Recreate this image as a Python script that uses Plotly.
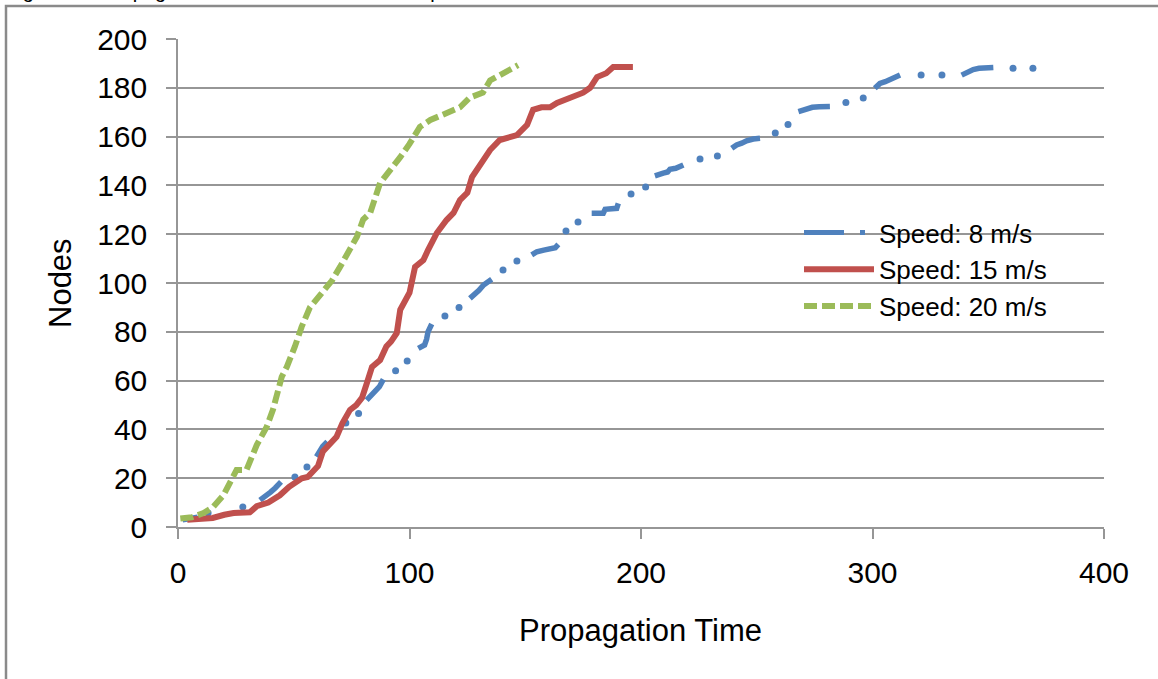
import math
import plotly.graph_objects as go

# Propagation time (x) vs. number of reached nodes (y) for each node speed
t_8 = [2, 4, 6, 8.5, 13, 28,
       35.4, 37, 38.4, 40, 42, 43.2, 44.5, 50.5, 55.7,
       59.8, 61, 62.5, 64.5, 72.5, 78,
       81.5, 83, 85, 87, 88.7, 94, 99,
       103.8, 106.5, 107.4, 108, 109.6, 115.3, 121.4,
       126.1, 128, 130, 132, 133.8, 135.5, 140.4, 146.4,
       152.8, 155, 158, 161.4, 163, 164.3, 167.6, 172.8,
       178.7, 181, 183.7, 184.5, 187, 189.5, 190.2, 195.7, 202,
       206, 208, 209.6, 211.5, 212.5, 215, 218.3, 225.5, 233,
       239.2, 241.3, 243.5, 245.6, 248.5, 251.4, 258, 263.5,
       268, 270, 271.6, 274, 277, 279.5, 281.6, 288.5, 296,
       301, 302, 303.2, 305.5, 307.6, 310, 311.9, 321, 330,
       338.5, 340, 341.5, 343.5, 346, 349, 352.2, 360.7, 369.3]
n_8 = [3, 3.2, 3.5, 4, 5.7, 8.2,
       11, 12, 13, 14.3, 16, 17.2, 18.5, 20.5, 24.6,
       28.8, 31, 33, 35, 42.6, 46.5,
       52, 53.5, 55, 57.5, 60.5, 64, 68,
       73.2, 74.6, 77, 80, 83.2, 86.5, 90,
       93.7, 95, 97, 99.2, 100.2, 101.5, 105.3, 109,
       111.5, 112.8, 113.5, 113.8, 114.5, 115.8, 121.3, 125,
       128.6, 128.6, 128.6, 130.2, 130.4, 130.6, 132.6, 136.5, 139.3,
       143.9, 144.2, 145, 145.5, 146.6, 147, 148.4, 150.8, 152,
       155.2, 156.6, 157.3, 158.3, 159, 159.3, 161.5, 165,
       170.2, 171, 171.6, 172, 172.2, 172.2, 172.3, 174, 175.8,
       179.8, 181, 181.8, 182.5, 183.2, 184, 185.2, 185.2, 185.2,
       185.2, 186, 186.8, 187.5, 188, 188.2, 188.3, 188, 188]

t_15 = [4, 10, 15, 20, 24, 31, 34, 39, 44, 48, 53.5, 56, 60.5, 62.6, 66,
        68.5, 71, 74.3, 77, 79.5, 81.6, 83.8, 87.3, 90, 92, 94.5, 96, 98,
        100, 102.4, 106, 108, 111.8, 116, 119, 121.8, 125, 127, 131.3,
        134.8, 139, 143, 146.4, 150.8, 153.4, 157, 160.7, 163.7, 169, 175,
        178, 181, 185, 188, 196.5]
n_15 = [3, 3.2, 3.7, 5, 5.7, 6, 8.5, 10, 13, 16.5, 20, 20.5, 25, 31, 34,
        37, 42.5, 48, 50, 53, 59, 65.6, 68.4, 74, 76, 79.5, 89, 92,
        96, 106.6, 109.4, 113.5, 120.5, 125.8, 128.7, 134, 137, 143.4, 149,
        154.5, 158.6, 159.5, 160.6, 164.8, 171, 172, 172, 173.8, 176, 178,
        180, 184.4, 186, 188.5, 188.5]

t_20 = [1, 6, 11, 15, 19.6, 23, 25.3, 29.6, 34, 38.3, 41, 44.8, 47, 50.5,
        53.4, 57, 62.6, 66.5, 70, 73, 77.3, 80, 83, 87.3, 92.4, 96, 100,
        104.5, 109, 116, 121.8, 126, 131.7, 134.8, 140.4, 146.9]
n_20 = [3.5, 4, 5.7, 8, 13, 19, 23.4, 23.4, 33.6, 41, 48, 61.5, 65.6, 74,
        82, 90, 96, 101, 106.6, 112, 119, 126, 128.7, 141, 147, 151.6, 157,
        164, 166.8, 170, 172, 176, 178, 183, 186, 189.3]

series_names = ["Speed: 8 m/s", "Speed: 15 m/s", "Speed: 20 m/s"]
x_ticks = [0, 100, 200, 300, 400]
y_ticks = list(range(0, 201, 20))

BLUE, RED, GREEN = "#4F81BD", "#C0504D", "#9BBB59"
FONT = "Liberation Sans, Arial, sans-serif"
GRID = "#969696"


def split_runs(xs, ys, max_step=4.0):
    """Group consecutive samples into runs; a long jump starts a new run."""
    runs = [[(xs[0], ys[0])]]
    for x0, y0, x1, y1 in zip(xs, ys, xs[1:], ys[1:]):
        if math.hypot(x1 - x0, y1 - y0) > max_step:
            runs.append([])
        runs[-1].append((x1, y1))
    return runs


runs_8 = split_runs(t_8, n_8)
seg_x, seg_y, dot_x, dot_y = [], [], [], []
for run in runs_8:
    if len(run) > 1:
        seg_x += [p[0] for p in run] + [None]
        seg_y += [p[1] for p in run] + [None]
    else:
        dot_x.append(run[0][0])
        dot_y.append(run[0][1])

fig = go.Figure()

# 8 m/s: dense stretches as dashes, sparse samples as dots
fig.add_trace(go.Scatter(x=seg_x, y=seg_y, mode="lines", connectgaps=False,
                         line=dict(color=BLUE, width=5.5), showlegend=False,
                         hoverinfo="skip"))
fig.add_trace(go.Scatter(x=dot_x, y=dot_y, mode="markers",
                         marker=dict(color=BLUE, size=7), showlegend=False,
                         hoverinfo="skip"))
# legend key for the 8 m/s series
fig.add_trace(go.Scatter(x=[None], y=[None], mode="lines", name=series_names[0],
                         line=dict(color=BLUE, width=5, dash="40px,16px,5px,16px"),
                         legendrank=1))

fig.add_trace(go.Scatter(x=t_15, y=n_15, mode="lines", name=series_names[1],
                         line=dict(color=RED, width=6), legendrank=2))
fig.add_trace(go.Scatter(x=t_20, y=n_20, mode="lines", name=series_names[2],
                         line=dict(color=GREEN, width=6, dash="13px,5px"),
                         legendrank=3))

L, R, T, B = 178, 54, 39, 152
W, H = 1158, 679
pw, ph = W - L - R, H - T - B


def px(xp):
    return (xp - L) / pw


def py(yp):
    return (H - B - yp) / ph


fig.update_layout(
    width=W, height=H, autosize=False,
    margin=dict(l=L, r=R, t=T, b=B, pad=0),
    paper_bgcolor="white", plot_bgcolor="white",
    font=dict(family=FONT, color="black"),
    showlegend=True,
    legend=dict(x=px(799), y=py(209), xanchor="left", yanchor="top",
                font=dict(size=26, family=FONT), bgcolor="rgba(0,0,0,0)",
                itemwidth=70, tracegroupgap=0),
    xaxis=dict(range=[0, 400], tickvals=x_ticks, showgrid=False,
               zeroline=False, showline=True, linecolor=GRID, linewidth=1.5,
               ticks="outside", ticklen=10, tickcolor=GRID, tickwidth=1.5,
               tickfont=dict(size=30, family=FONT), ticklabelstandoff=8),
    yaxis=dict(range=[0, 200], tickvals=y_ticks, showgrid=True,
               gridcolor=GRID, gridwidth=1.5, zeroline=False, showline=True,
               linecolor=GRID, linewidth=1.5, ticks="outside", ticklen=10,
               tickcolor=GRID, tickwidth=1.5,
               tickfont=dict(size=30, family=FONT), ticklabelstandoff=13),
    annotations=[
        dict(text="Nodes", textangle=-90, x=px(60), y=py(283), xref="paper",
             yref="paper", showarrow=False, xanchor="center", yanchor="middle",
             font=dict(size=31, family=FONT)),
        dict(text="Propagation Time", x=px(640), y=py(630), xref="paper",
             yref="paper", showarrow=False, xanchor="center", yanchor="middle",
             font=dict(size=31, family=FONT)),
        dict(text="Figure 10: Propagation Time for different node speeds",
             x=px(4), y=py(-9), xref="paper", yref="paper", showarrow=False,
             xanchor="left", yanchor="middle", font=dict(size=20, family=FONT)),
    ],
    shapes=[
        dict(type="path", xref="paper", yref="paper",
             path=f"M {px(6)},{py(700)} L {px(6)},{py(6)} L {px(1200)},{py(6)}",
             line=dict(color="#8a8a8a", width=2.5)),
    ],
)

fig.write_html("out.html")
